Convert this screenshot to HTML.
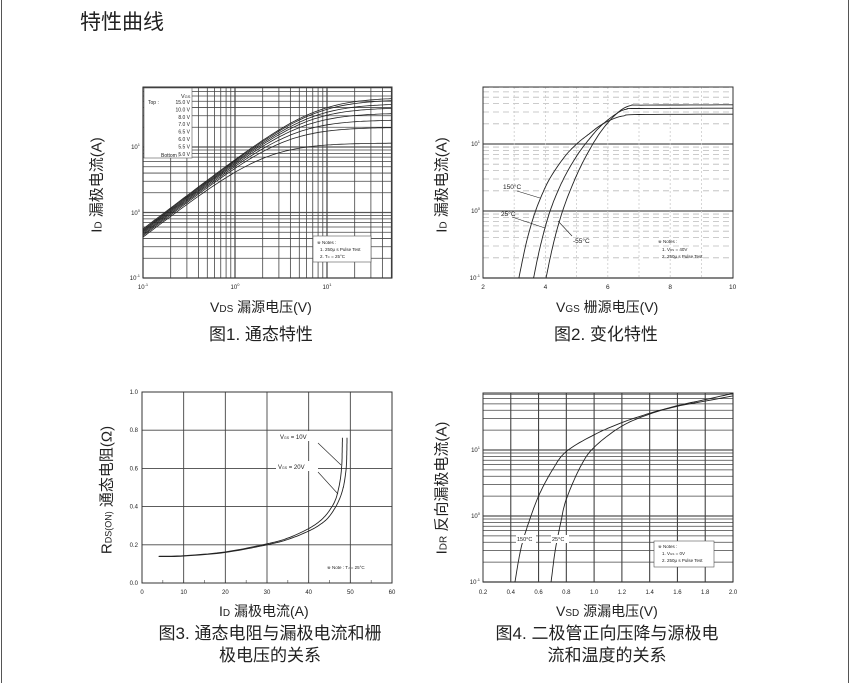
<!DOCTYPE html>
<html><head><meta charset="utf-8"><style>
body{margin:0;width:850px;height:683px;background:#fff;overflow:hidden;position:relative;font-family:"Liberation Sans","Noto Sans CJK SC",sans-serif;}
.t{position:absolute;white-space:nowrap;color:#222;}
</style></head><body>
<div style="position:absolute;left:1px;top:0;width:846px;height:683px;border-left:1px solid #555;border-right:1px solid #555;"></div>
<div class="t" style="left:80px;top:6px;font-size:21px;">特性曲线</div>
<svg id="s" width="850" height="683" style="position:absolute;left:0;top:0" xmlns="http://www.w3.org/2000/svg" font-family="Liberation Sans, sans-serif"></svg>
<div class="t" style="left:210px;top:297px;font-size:14px;">V<span style="font-size:10px">DS</span> 漏源电压(V)</div>
<div class="t" style="left:209px;top:320px;font-size:17px;">图1. 通态特性</div>
<div class="t" style="left:556px;top:297px;font-size:14px;">V<span style="font-size:10px">GS</span> 栅源电压(V)</div>
<div class="t" style="left:554px;top:320px;font-size:17px;">图2. 变化特性</div>
<div class="t" style="left:219px;top:601px;font-size:14px;">I<span style="font-size:10px">D</span> 漏极电流(A)</div>
<div class="t" style="left:140px;top:623px;font-size:17px;text-align:center;line-height:22px;width:260px;">图3. 通态电阻与漏极电流和栅<br>极电压的关系</div>
<div class="t" style="left:556px;top:601px;font-size:14px;">V<span style="font-size:10px">SD</span> 源漏电压(V)</div>
<div class="t" style="left:476px;top:623px;font-size:17px;text-align:center;line-height:22px;width:262px;">图4. 二极管正向压降与源极电<br>流和温度的关系</div>
<div class="t" style="left:96px;top:185px;font-size:15px;transform:translate(-50%,-50%) rotate(-90deg);">I<span style="font-size:10px">D</span> 漏极电流(A)</div>
<div class="t" style="left:441px;top:185px;font-size:15px;transform:translate(-50%,-50%) rotate(-90deg);">I<span style="font-size:10px">D</span> 漏极电流(A)</div>
<div class="t" style="left:106px;top:490px;font-size:15px;transform:translate(-50%,-50%) rotate(-90deg);">R<span style="font-size:9px">DS(ON)</span> 通态电阻(Ω)</div>
<div class="t" style="left:441px;top:488px;font-size:15px;transform:translate(-50%,-50%) rotate(-90deg);">I<span style="font-size:10px">DR</span> 反向漏极电流(A)</div>
<script>
var s=document.getElementById('s'),h='';
function L(x1,y1,x2,y2,c,w,d){h+='<line x1="'+x1+'" y1="'+y1+'" x2="'+x2+'" y2="'+y2+'" stroke="'+(c||'#333')+'" stroke-width="'+(w||1)+'"'+(d?' stroke-dasharray="'+d+'"':'')+'/>';}
function T(x,y,t,sz,a){h+='<text x="'+x+'" y="'+y+'" font-size="'+(sz||6)+'" fill="#222"'+(a?' text-anchor="'+a+'"':'')+'>'+t+'</text>';}
function P(pts,c,w){h+='<polyline fill="none" stroke="'+(c||'#222')+'" stroke-width="'+(w||0.9)+'" points="'+pts.map(p=>p[0].toFixed(1)+','+p[1].toFixed(1)).join(' ')+'"/>';}
function CR(p){var o=[];for(var i=0;i<p.length-1;i++){var p0=p[Math.max(i-1,0)],p1=p[i],p2=p[i+1],p3=p[Math.min(i+2,p.length-1)];for(var t=0;t<1;t+=0.1){var t2=t*t,t3=t2*t;o.push([0,1].map(k=>0.5*(2*p1[k]+(-p0[k]+p2[k])*t+(2*p0[k]-5*p1[k]+4*p2[k]-p3[k])*t2+(-p0[k]+3*p1[k]-3*p2[k]+p3[k])*t3)));}}o.push(p[p.length-1]);return o;}
function R(x,y,w,hh){h+='<rect x="'+x+'" y="'+y+'" width="'+w+'" height="'+hh+'" fill="#fff" stroke="#555" stroke-width="0.6"/>';}
function logY(x0,x1,yb,dec,ytop,c,d){for(var e=-1;e<2;e++)for(var m=1;m<10;m++){var y=yb-(e+1+Math.log10(m))*dec;if(y<ytop-0.5)continue;L(x0,y,x1,y,m==1?'#555':c,m==1?1.2:0.8,m==1?null:d);}}
// Chart1
function X1(v){return 143+(Math.log10(v)+1)*92;}function Y1(v){return 278-(Math.log10(v)+1)*65.5;}
logY(143,392,278,65.5,87,'#444');
for(var e=-1;e<2;e++)for(var m=1;m<10;m++){var x=X1(m*Math.pow(10,e));if(x>392)continue;L(x,87,x,278,'#444',m==1?1.2:0.8);}
h+='<rect x="143" y="87" width="249" height="191" fill="none" stroke="#333"/>';
R(144,88,48,70);
var vg=['15.0 V','10.0 V','8.0 V','7.0 V','6.5 V','6.0 V','5.5 V','5.0 V'];
T(181,98,'V<tspan font-size="4">GS</tspan>',5.5);T(148,104,'Top :',5);T(161,157,'Bottom :',5);
vg.forEach((v,i)=>T(190,104+i*7.4,v,5,'end'));
var sat=[57,53,46,40,33,26,20,11.5];
sat.forEach((S,i)=>{var pts=[];for(var lx=-1;lx<=1.71;lx+=0.03){var v=Math.pow(10,lx);var lin=6.6*(1-i*0.035)*Math.pow(v,1.07);var id=1/Math.pow(1/Math.pow(lin,1.4)+1/Math.pow(S,1.4),1/1.4);pts.push([X1(v),Y1(id)]);}P(pts,'#222',0.8);});
R(313,236,58,26);T(317,244,'※ Notes :',4.5);T(320,251,'1. 250μ s Pulse Test',4.5);T(320,258,'2. T<tspan font-size="3">C</tspan> = 25°C',4.5);
T(143,289,'10<tspan dy="-3" font-size="4">-1</tspan>',6,'middle');T(235,289,'10<tspan dy="-3" font-size="4">0</tspan>',6,'middle');T(327,289,'10<tspan dy="-3" font-size="4">1</tspan>',6,'middle');
T(140,280,'10<tspan dy="-3" font-size="4">-1</tspan>',6,'end');T(140,215,'10<tspan dy="-3" font-size="4">0</tspan>',6,'end');T(140,149,'10<tspan dy="-3" font-size="4">1</tspan>',6,'end');
// Chart2
function X2(v){return 483+(v-2)*31.2;}function Y2l(l){return 278-(l+1)*67;}
logY(483,733,278,67,87,'#bbb','6,4');
for(var v=3;v<10;v++)L(X2(v),87,X2(v),278,'#ccc',0.8,'2,2');
h+='<rect x="483" y="87" width="250" height="191" fill="none" stroke="#333"/>';
[[[3.15,-1],[3.4,-0.45],[3.7,0.02],[4.1,0.45],[4.6,0.8],[5,1.0],[5.4,1.15],[5.8,1.29],[6.2,1.38],[6.5,1.42],[7,1.44],[10,1.445]],
 [[3.62,-1],[3.85,-0.5],[4.15,0],[4.55,0.45],[5,0.82],[5.4,1.07],[5.8,1.28],[6.3,1.46],[6.6,1.52],[7,1.53],[10,1.535]],
 [[4.02,-1],[4.25,-0.5],[4.55,0],[4.95,0.48],[5.35,0.86],[5.8,1.2],[6.3,1.46],[6.7,1.57],[7.2,1.58],[10,1.585]]].forEach(c=>{P(CR(c.map(p=>[X2(p[0]),Y2l(p[1])])),'#222',0.9);});
T(503,189,'150°C',6.5);L(517,191,540,198,'#222',0.6);
T(501,216,'25°C',6.5);L(512,217,545,228,'#222',0.6);
T(573,243,'-55°C',6.5);L(572,236,558,221,'#222',0.6);
T(658,243,'※ Notes :',4.5);T(662,251,'1. V<tspan font-size="3">DS</tspan> = 40V',4.5);T(662,258,'2. 250μ s Pulse Test',4.5);
for(var v=2;v<=10;v+=2)T(X2(v),289,v,6.5,'middle');
T(480,280,'10<tspan dy="-3" font-size="4">-1</tspan>',6,'end');T(480,213,'10<tspan dy="-3" font-size="4">0</tspan>',6,'end');T(480,146,'10<tspan dy="-3" font-size="4">1</tspan>',6,'end');
// Chart3
function X3(v){return 142+v*250/60;}function Y3(v){return 583-v*191;}
for(var v=10;v<60;v+=10)L(X3(v),392,X3(v),583,'#444',0.9);
for(var v=0.2;v<1;v+=0.2)L(142,Y3(v),392,Y3(v),'#444',0.9);
for(var v=5;v<60;v+=5)L(X3(v),580,X3(v),583,'#444',0.6);
h+='<rect x="142" y="392" width="250" height="191" fill="none" stroke="#333"/>';
[[[4,.14],[10,.143],[20,.163],[30,.205],[35,.235],[40,.285],[43,.33],[45,.38],[46.5,.44],[47.5,.53],[47.95,.62],[48.05,.7],[48.1,.76]],
 [[4,.138],[10,.141],[20,.16],[30,.2],[35,.228],[40,.272],[43,.31],[45,.35],[47,.42],[48.3,.5],[49,.6],[49.15,.68],[49.2,.76]]].forEach(c=>P(CR(c.map(p=>[X3(p[0]),Y3(p[1])])),'#222',0.9));
h+='<rect x="278" y="431" width="42" height="10" fill="#fff"/>';T(280,439,'V<tspan font-size="3.5">GS</tspan> = 10V',6);
h+='<rect x="276" y="461" width="42" height="10" fill="#fff"/>';T(278,469,'V<tspan font-size="3.5">GS</tspan> = 20V',6);
L(318,443,341,465,'#222',0.6);L(318,472,338,494,'#222',0.6);
T(327,569,'※ Note : T<tspan font-size="3">J</tspan> = 25°C',4.5);
for(var v=0;v<=60;v+=10)T(X3(v),594,v,6,'middle');
for(var v=0;v<=1.001;v+=0.2)T(138,Y3(v)+2,v.toFixed(1),6,'end');
// Chart4
function X4(v){return 483+(v-0.2)*250/1.8;}
logY(483,733,582,66,393,'#444');
for(var v=0.4;v<2;v+=0.2)L(X4(v),393,X4(v),582,'#444',1.1);
h+='<rect x="483" y="393" width="250" height="189" fill="none" stroke="#333"/>';
[[[0.43,0.1],[0.47,0.3],[0.52,0.7],[0.6,2],[0.7,5],[0.8,9.5],[1.0,17],[1.2,26],[1.4,36],[1.6,47],[1.8,58],[2.0,72]],
 [[0.69,0.1],[0.72,0.3],[0.76,0.8],[0.8,1.8],[0.9,5.5],[1.0,11],[1.2,23],[1.4,35],[1.6,46],[1.8,55],[2.0,66]]].forEach(c=>P(CR(c.map(p=>[X4(p[0]),Math.log10(p[1])])).map(p=>[p[0],582-(p[1]+1)*66]),'#222',0.9));
h+='<rect x="516" y="535" width="20" height="8" fill="#fff"/>';T(517,541,'150°C',5.5);
h+='<rect x="551" y="535" width="18" height="8" fill="#fff"/>';T(552,541,'25°C',5.5);
R(654,541,60,26);T(658,548,'※ Notes :',4.5);T(662,555,'1. V<tspan font-size="3">GS</tspan> = 0V',4.5);T(662,562,'2. 250μ s Pulse Test',4.5);
for(var v=0.2;v<=2.001;v+=0.2)T(X4(v),594,v.toFixed(1),6,'middle');
T(480,584,'10<tspan dy="-3" font-size="4">-1</tspan>',6,'end');T(480,518,'10<tspan dy="-3" font-size="4">0</tspan>',6,'end');T(480,452,'10<tspan dy="-3" font-size="4">1</tspan>',6,'end');
s.innerHTML=h;
</script>
</body></html>
